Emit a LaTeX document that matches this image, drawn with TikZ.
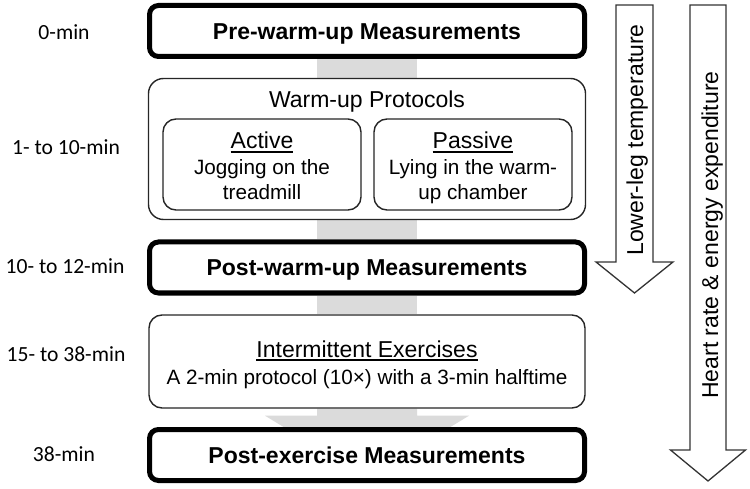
\documentclass[tikz,border=0pt]{standalone}
\usepackage{fontspec}
\setmainfont{Liberation Sans}
\newfontfamily\calfont{Carlito}
\usetikzlibrary{calc,backgrounds}
\newcommand\myul[1]{\setbox0\hbox{#1}\rlap{\rule[-3.6pt]{\wd0}{1.4pt}}\box0}
\tikzset{
  thickbox/.style={draw=black, line width=5pt, rounded corners=9pt, fill=white,
    minimum width=435pt, minimum height=51pt, inner sep=0pt},
  thinbox/.style={draw=black!85, line width=1.4pt, fill=white, inner sep=0pt},
  conn/.style={fill=black!14},
  hollow/.style={draw=black!80, line width=1.3pt, fill=white, line join=miter},
  boldt/.style={font=\fontsize{23}{27}\selectfont\bfseries, anchor=base, inner sep=0pt},
  titlet/.style={font=\fontsize{23}{27}\selectfont, anchor=base, inner sep=0pt},
  bodyt/.style={font=\fontsize{20.7}{25}\selectfont, anchor=base, inner sep=0pt},
  timet/.style={font=\calfont\fontsize{21.6}{25}\selectfont, anchor=base, inner sep=0pt},
}
\begin{document}
\begin{tikzpicture}[x=1pt,y=-1pt]
\useasboundingbox (0,0) rectangle (750,489);

% boxes
\node[thickbox] (pre) at (367,31) {};
\node[boldt] (preT) at (367,39.5) {Pre-warm-up Measurements};

\node[thinbox, rounded corners=15pt, minimum width=437pt, minimum height=141pt] (warm) at (367,149) {};
\node[titlet] (warmT) at (367,108) {Warm-up Protocols};

\node[thinbox, rounded corners=13pt, minimum width=198pt, minimum height=91pt] (act) at (262,164.5) {};
\node[titlet] (actT) at (262,149) {\myul{Active}};
\node[bodyt] (actA) at (262,175) {Jogging on the};
\node[bodyt] (actB) at (262,200) {treadmill};

\node[thinbox, rounded corners=13pt, minimum width=198pt, minimum height=91pt] (pas) at (473,164.5) {};
\node[titlet] (pasT) at (473,149) {\myul{Passive}};
\node[bodyt] (pasA) at (473,175) {Lying in the warm-};
\node[bodyt] (pasB) at (473,200) {up chamber};

\node[thickbox] (post) at (367,267.5) {};
\node[boldt] (postT) at (367,275.5) {Post-warm-up Measurements};

\node[thinbox, rounded corners=13pt, minimum width=436pt, minimum height=93pt] (inter) at (367,361.5) {};
\node[titlet] (interT) at (367,357) {\myul{Intermittent Exercises}};
\node[bodyt] (interA) at (367,384) {A 2-min protocol (10×) with a 3-min halftime};

\node[thickbox] (postex) at (367,455) {};
\node[boldt] (postexT) at (367,463) {Post-exercise Measurements};

% grey connectors
\begin{scope}[on background layer]
\fill[conn] ([xshift=-50pt]pre.south) rectangle ([xshift=50pt]warm.north);
\fill[conn] ([xshift=-50pt]warm.south) rectangle ([xshift=50pt]post.north);
\fill[conn] ([xshift=-50pt]post.south) rectangle ([xshift=50pt]inter.north);
\fill[conn] ($(inter.south)+(-50,0)$) -- ($(inter.south)+(-50,7)$) -- ($(inter.south)+(-102,7)$)
  -- ($(inter.south)+(0,69)$) -- ($(inter.south)+(102,7)$) -- ($(inter.south)+(50,7)$)
  -- ($(inter.south)+(50,0)$) -- cycle;
\end{scope}

% time labels
\node[timet] (t0) at (64,39.3) {0-min};
\node[timet] (t1) at (66,155) {1- to 10-min};
\node[timet] (t2) at (65,273.3) {10- to 12-min};
\node[timet] (t3) at (66,361.7) {15- to 38-min};
\node[timet] (t4) at (64,461.7) {38-min};

% big hollow arrows
\draw[hollow] (616,5) -- (653,5) -- (653,262) -- (673,262) -- (634.5,293) -- (596,262) -- (616,262) -- cycle;
\node[titlet, rotate=90] (legT) at (643,140) {Lower-leg temperature};
\draw[hollow] (690,5) -- (726,5) -- (726,450) -- (745.5,450) -- (708,481) -- (670.5,450) -- (690,450) -- cycle;
\node[titlet, rotate=90] (hrT) at (718,235) {Heart rate \& energy expenditure};
\end{tikzpicture}
\end{document}
